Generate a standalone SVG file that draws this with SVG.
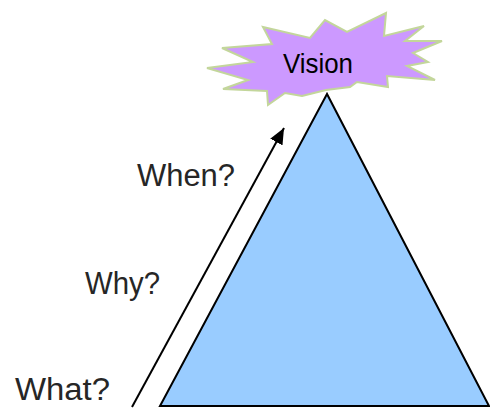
<svg xmlns="http://www.w3.org/2000/svg" width="490" height="408" viewBox="0 0 490 408">
  <style>
    .lbl { font-family: "Liberation Sans", Arial, sans-serif; font-size: 31px; fill: #262626; }
    .vis { font-family: "Liberation Sans", Arial, sans-serif; font-size: 28px; fill: #000; }
  </style>
  <defs>
    <marker id="ah" markerWidth="16" markerHeight="14" refX="16" refY="7" orient="auto" markerUnits="userSpaceOnUse" viewBox="0 0 16 14">
      <path d="M0,0 L16,7 L0,14 z" fill="#000"/>
    </marker>
  </defs>
  <rect width="490" height="408" fill="#fff"/>
  <g id="pyramid">
    <polygon points="327,94 160,406 489,406" fill="#99ccff" stroke="#000" stroke-width="2" stroke-linejoin="miter"/>
  </g>
  <g id="vision">
    <polygon points="263,27 310,38 325,20 347,32 386,13 384,36 424,26 405,41 442,41 413,53 428,62 407,66 435,80 387,76 388,87 357,82 350,87 326,90 302,96 285,93 268,105 267,91 223,89 248,80 207,68 253,62 222,48 272,44" fill="#cc99ff" stroke="#c3d69b" stroke-width="2" stroke-linejoin="miter"/>
    <text class="vis" x="283" y="73" textLength="70" lengthAdjust="spacingAndGlyphs">Vision</text>
  </g>
  <g id="connectors">
    <line x1="132" y1="407" x2="284" y2="128" stroke="#000" stroke-width="2" marker-end="url(#ah)"/>
  </g>
  <g id="labels">
    <text class="lbl" x="137" y="186" textLength="98" lengthAdjust="spacingAndGlyphs">When?</text>
    <text class="lbl" x="85" y="294" textLength="75" lengthAdjust="spacingAndGlyphs">Why?</text>
    <text class="lbl" x="15" y="400" textLength="95" lengthAdjust="spacingAndGlyphs">What?</text>
  </g>
</svg>
